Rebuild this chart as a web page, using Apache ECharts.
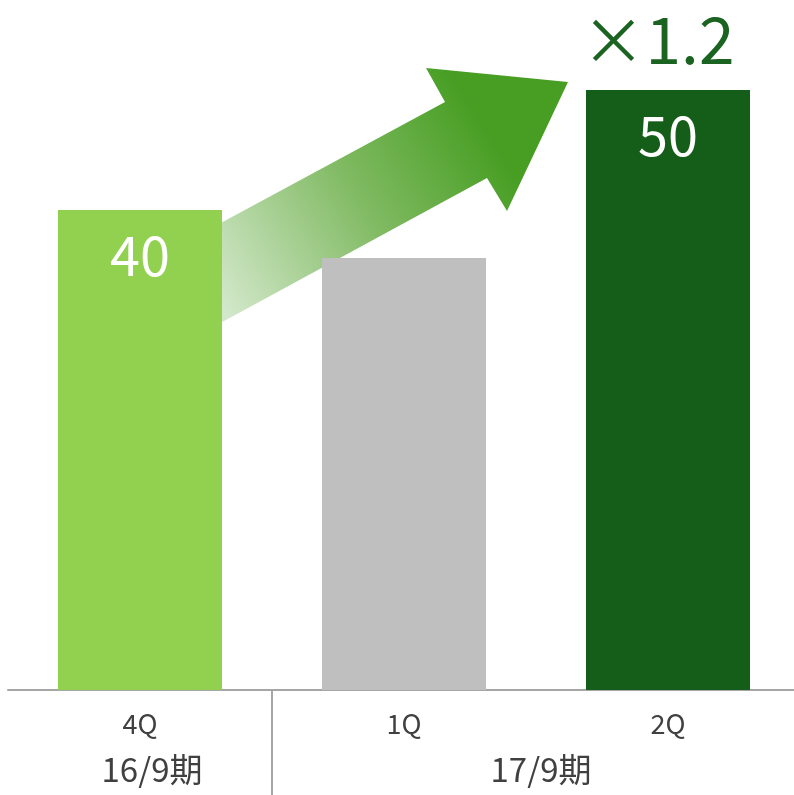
<!DOCTYPE html>
<html>
<head>
<meta charset="utf-8">
<script src="https://cdn.jsdelivr.net/npm/echarts@6/dist/echarts.min.js"></script>
<style>
  html, body { margin: 0; padding: 0; background: #fff; }
  #chart { width: 794px; height: 795px; }
</style>
</head>
<body>
<div id="chart"></div>
<script>
// データ
const quarters = ['4Q', '1Q', '2Q']
const values = [40, 36, 50]
const barColors = ['#92d050', '#bfbfbf', '#155e1a']
const showLabel = [true, false, true]
const periods = ['16/9期', '17/9期']
const periodSpan = [[0, 0], [1, 2]] // 期ごとのカテゴリ範囲
const growthText = '×1.2'

const font = '"Noto Sans CJK JP", "Noto Sans", sans-serif'
const periodShift = [12, 5] // 期ラベルの横ずれ(px)
const myChart = echarts.init(document.getElementById('chart'))

const option = {
  animation: false,
  backgroundColor: '#fff',
  grid: { left: 8, width: 792, top: 30, bottom: 105, outerBoundsMode: 'none' },
  xAxis: {
    type: 'category',
    data: quarters,
    axisTick: { show: false },
    axisLine: { lineStyle: { color: '#a6a6a6', width: 2 } },
    axisLabel: { color: '#404040', fontSize: 27, fontFamily: font, margin: 20 }
  },
  yAxis: {
    type: 'value',
    min: 0,
    max: 55,
    show: false
  },
  series: [{
    type: 'bar',
    barWidth: 164,
    data: values.map((v, i) => ({
      value: v,
      itemStyle: { color: barColors[i] },
      label: { show: showLabel[i] }
    })),
    label: {
      position: 'insideTop',
      distance: 18,
      color: '#fff',
      fontSize: 54,
      fontFamily: font
    },
    z: 2
  }]
}
myChart.setOption(option)

// 注釈（矢印・期ラベル・区切り線）をバー位置から配置
const p0 = myChart.convertToPixel({ xAxisIndex: 0, yAxisIndex: 0 }, [0, values[0]])
const p2 = myChart.convertToPixel({ xAxisIndex: 0, yAxisIndex: 0 }, [2, values[2]])
const base = myChart.convertToPixel({ yAxisIndex: 0 }, 0)
const catW = p2[0] - myChart.convertToPixel({ xAxisIndex: 0 }, 1)

const sx = p0[0] + 40
const tipX = p2[0] - 100
const arrowPts = [
  [sx, p0[1] + 35], [445, 102], [426, 68], [tipX, 82],
  [507, 211], [487, 178], [sx, p0[1] + 135]
]

const graphics = [{
  type: 'polygon',
  z: 1,
  shape: { points: arrowPts },
  style: {
    fill: new echarts.graphic.LinearGradient(230, 320, 500, 150, [
      { offset: 0, color: '#d3e8cb' },
      { offset: 0.55, color: '#80ba62' },
      { offset: 1, color: '#479e23' }
    ], true)
  }
}, {
  type: 'text',
  z: 5,
  x: p2[0] - 10,
  y: 40,
  style: {
    text: growthText,
    fill: '#1a6320',
    font: '64px ' + font,
    textAlign: 'center',
    textVerticalAlign: 'middle'
  }
}, {
  type: 'line',
  z: 5,
  shape: { x1: p0[0] + catW / 2, y1: base, x2: p0[0] + catW / 2, y2: 795 },
  style: { stroke: '#a6a6a6', lineWidth: 2 }
}]

periods.forEach((name, i) => {
  const a = myChart.convertToPixel({ xAxisIndex: 0 }, periodSpan[i][0])
  const b = myChart.convertToPixel({ xAxisIndex: 0 }, periodSpan[i][1])
  graphics.push({
    type: 'text',
    z: 5,
    x: (a + b) / 2 + periodShift[i],
    y: base + 79,
    style: {
      text: name,
      fill: '#404040',
      font: '33px ' + font,
      textAlign: 'center',
      textVerticalAlign: 'middle'
    }
  })
})

myChart.setOption({ graphic: graphics })
</script>
</body>
</html>
